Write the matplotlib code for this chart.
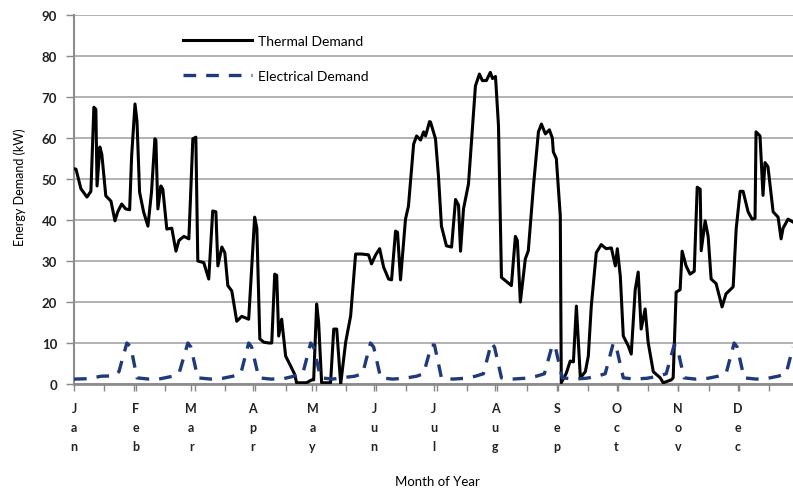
import matplotlib
matplotlib.use("Agg")
import matplotlib.pyplot as plt
from matplotlib.ticker import MultipleLocator

plt.rcParams['font.family'] = ['Lato', 'DejaVu Sans']

# thermal demand (day of year, kW)
thermal_day = [0, 1, 3.5, 6.5, 8.5, 10, 11, 11.6, 13, 14, 16, 18.6, 20.6, 22, 24, 26, 28, 29,
               30.7, 31.7, 33, 35, 37.2, 39, 40.7, 41.2, 42.2, 43.7, 44.7, 46.7, 49.2, 51.3,
               52.8, 55.3, 57.8, 59.8, 61.3, 62.3, 65.3, 67.8, 69.8, 71.4, 72.4, 74.4, 75.9,
               77.4, 79.4, 81.9, 84.4, 87.9, 90.9, 92, 93.5, 95.5, 98, 99.5, 101, 102, 103,
               104.5, 106.5, 109, 111, 112, 117, 119.6, 120.6, 122.1, 123.1, 124.6, 129.1,
               130.7, 132.2, 134.2, 136.7, 139.2, 141.7, 144.7, 148.2, 149.7, 151.8, 153.8,
               155.8, 158.3, 159.8, 161.8, 162.8, 164.3, 166.8, 168.3, 170.9, 172.4, 174.4,
               175.9, 176.9, 178.9, 179.4, 181.9, 183.4, 184.9, 187.4, 190, 192, 193.5, 194.5,
               196, 198.5, 200, 202, 204, 205.5, 207.5, 209.5, 210.6, 212.1, 213.6, 215.1,
               217.6, 220.1, 222.1, 223.1, 224.6, 227.1, 228.6, 231.2, 233.7, 235.2, 237.2,
               239.2, 240.7, 241.2, 242.7, 244.7, 245.2, 247.7, 249.7, 251.3, 252.8, 254.8,
               257.3, 258.8, 260.3, 262.8, 265.3, 267.8, 270.4, 272.4, 273.4, 274.9, 276.4,
               278.9, 280.4, 282.4, 283.9, 285.4, 287.4, 288.9, 291.5, 295, 296.5, 300.5,
               301.5, 303, 305, 306, 308, 310, 312.1, 313.6, 315.1, 315.6, 317.6, 319.1, 320.6,
               323.1, 326.1, 328.1, 331.7, 333.2, 335.2, 336.7, 339.2, 341.2, 342.7, 343.2,
               345.2, 346.7, 347.7, 349.2, 351.8, 354.3, 355.8, 356.8, 359.3, 361.8]
thermal_kw = [52.5, 52.4, 47.6, 45.6, 47, 67.5, 67, 48.3, 57.8, 56, 45.9, 44.6, 39.8, 42, 43.9,
              42.7, 42.5, 55.6, 68.3, 64, 46.8, 42, 38.5, 46.8, 59.8, 59.5, 42.7, 48.3, 47.5,
              37.8, 38, 32.4, 35, 36, 35.4, 59.8, 60.2, 30, 29.6, 25.6, 42.2, 42, 28.8, 33.4,
              32, 24, 22.7, 15.3, 16.5, 15.8, 40.7, 38, 11, 10.2, 10, 10, 26.8, 26.5, 11.7,
              15.8, 6.8, 4.4, 2.4, 0.3, 0.3, 1, 1, 19.5, 15, 0.3, 0.3, 13.4, 13.4, 0, 10.2,
              16.6, 31.7, 31.7, 31.5, 29.3, 31.5, 33, 28.5, 25.6, 25.4, 37.3, 37, 25.4, 40.2,
              43.4, 58.5, 60.5, 59.5, 61.5, 60.5, 64, 63.9, 59.8, 50.7, 38.5, 33.7, 33.4, 45,
              43.6, 32.4, 42.7, 48.8, 59, 72.7, 75.6, 74, 74, 76, 74.5, 75, 63, 26, 25, 24, 36,
              35, 20, 30.5, 32.5, 48.3, 61.5, 63.4, 61, 62, 60, 56.6, 55, 41, 0.3, 2.6, 5.6,
              5.4, 19, 1.5, 3, 6.8, 19, 32, 34, 33, 33.2, 28.8, 33, 26.3, 11.7, 9.3, 7.3, 23,
              27.3, 13.4, 18.3, 10.2, 3, 1.5, 0.3, 1, 1.5, 22.4, 23, 32.4, 28.8, 26.8, 27.5,
              48, 47.5, 32.5, 39.8, 36, 25.6, 24.5, 18.8, 22, 23.7, 37.8, 47, 47, 42, 40.2,
              40.4, 61.5, 60.5, 46, 54, 53, 42, 40.7, 35.4, 38, 40.2, 39.5]

# electrical demand (day of year, kW)
elec_day = [0, 7.5, 13.6, 20.6, 22.6, 26.6, 28.6, 31.7, 37.7, 43.7, 49.7, 52.8, 57.3, 58.8,
            62.3, 68.8, 74.9, 79.9, 83.9, 87.9, 89.4, 93, 99, 105.5, 110.6, 115.1, 119.1,
            120.6, 124.1, 130.2, 136.2, 141.2, 145.2, 149.2, 150.8, 154.3, 160.3, 166.3,
            172.4, 175.9, 179.9, 181.4, 184.9, 190.5, 197, 202, 206, 210, 211.6, 215.1,
            220.6, 227.1, 232.7, 236.7, 240.7, 242.2, 245.7, 251.8, 257.8, 263.3, 267.3,
            271.4, 272.9, 276.4, 281.9, 288.4, 294, 298, 302, 303.5, 307, 312.6, 319.1,
            324.1, 328.1, 332.2, 333.7, 337.2, 343.2, 349.2, 354.3, 358.3, 361.8]
elec_kw = [1.2, 1.3, 1.9, 2.0, 3, 10, 9, 1.5, 1.2, 1.3, 1.9, 2.5, 10, 9, 1.5, 1.2, 1.4, 1.9,
           2.5, 10, 9, 1.5, 1.2, 1.3, 1.9, 2.5, 10, 9, 1.5, 1.2, 1.6, 1.9, 2.5, 10, 9, 1.5,
           1.2, 1.4, 1.9, 2.5, 9.5, 9.5, 1.5, 1.2, 1.4, 1.9, 2.5, 10, 9, 1.5, 1.2, 1.4, 1.9,
           2.5, 9.5, 9, 1.5, 1.2, 1.4, 1.9, 2.5, 10, 9, 1.5, 1.2, 1.4, 1.9, 2.5, 9.5, 9, 1.5,
           1.2, 1.4, 1.9, 2.5, 10, 9, 1.5, 1.2, 1.4, 1.9, 2.5, 9]

month_start = [0, 31, 59, 90, 120, 151, 181, 212, 243, 273, 304, 334]
month_names = ['Jan', 'Feb', 'Mar', 'Apr', 'May', 'Jun', 'Jul', 'Aug', 'Sep', 'Oct', 'Nov', 'Dec']

fig = plt.figure(figsize=(7.93, 4.89), dpi=100)
ax = fig.add_axes([74 / 793, 1 - 385 / 489, 1 - 74 / 793, (385 - 16) / 489])

ax.plot(thermal_day, thermal_kw, color='black', lw=2.2, label='Thermal Demand', zorder=3)
ax.plot(elec_day, elec_kw, color='#1f3a7a', lw=2.4, ls=(0, (3.8, 3)), label='Electrical Demand', zorder=3)

ax.set_xlim(0, 361.8)
ax.set_ylim(0, 90)
ax.yaxis.set_major_locator(MultipleLocator(10))
ax.grid(axis='y', color='#ababab', lw=1.3)
ax.set_axisbelow(True)

ax.set_xticks(month_start)
ax.set_xticklabels(['\n'.join(m) for m in month_names], linespacing=1.72)
ax.xaxis.set_minor_locator(MultipleLocator(365 / 24))
ax.tick_params(axis='x', which='both', length=5, color='#888888', width=1, pad=8,
               labelsize=9)
ax.tick_params(axis='y', length=6, color='#888888', width=1, pad=6, labelsize=9.5)
for t in ax.get_xticklabels() + ax.get_yticklabels():
    t.set_fontweight('bold')
    t.set_color('#222222')

for s in ['top', 'right']:
    ax.spines[s].set_visible(False)
ax.spines['left'].set_color('#8c8c8c')
ax.spines['left'].set_linewidth(1.5)
ax.spines['bottom'].set_color('#8c8c8c')
ax.spines['bottom'].set_linewidth(2)

fig.text(20 / 793, 1 - 187 / 489, 'Energy Demand (kW)', rotation=90, ha='center', va='center',
         fontsize=9)
fig.text(437 / 793, 1 - 482 / 489, 'Month of Year', ha='center', va='center', fontsize=9.5)

ax.legend(loc='upper left', bbox_to_anchor=(0.1516, 0.945), frameon=False, fontsize=10,
          handlelength=5.0, handletextpad=0.4, labelspacing=1.6, borderpad=0, borderaxespad=0)

fig.savefig('out.png', dpi=100)
